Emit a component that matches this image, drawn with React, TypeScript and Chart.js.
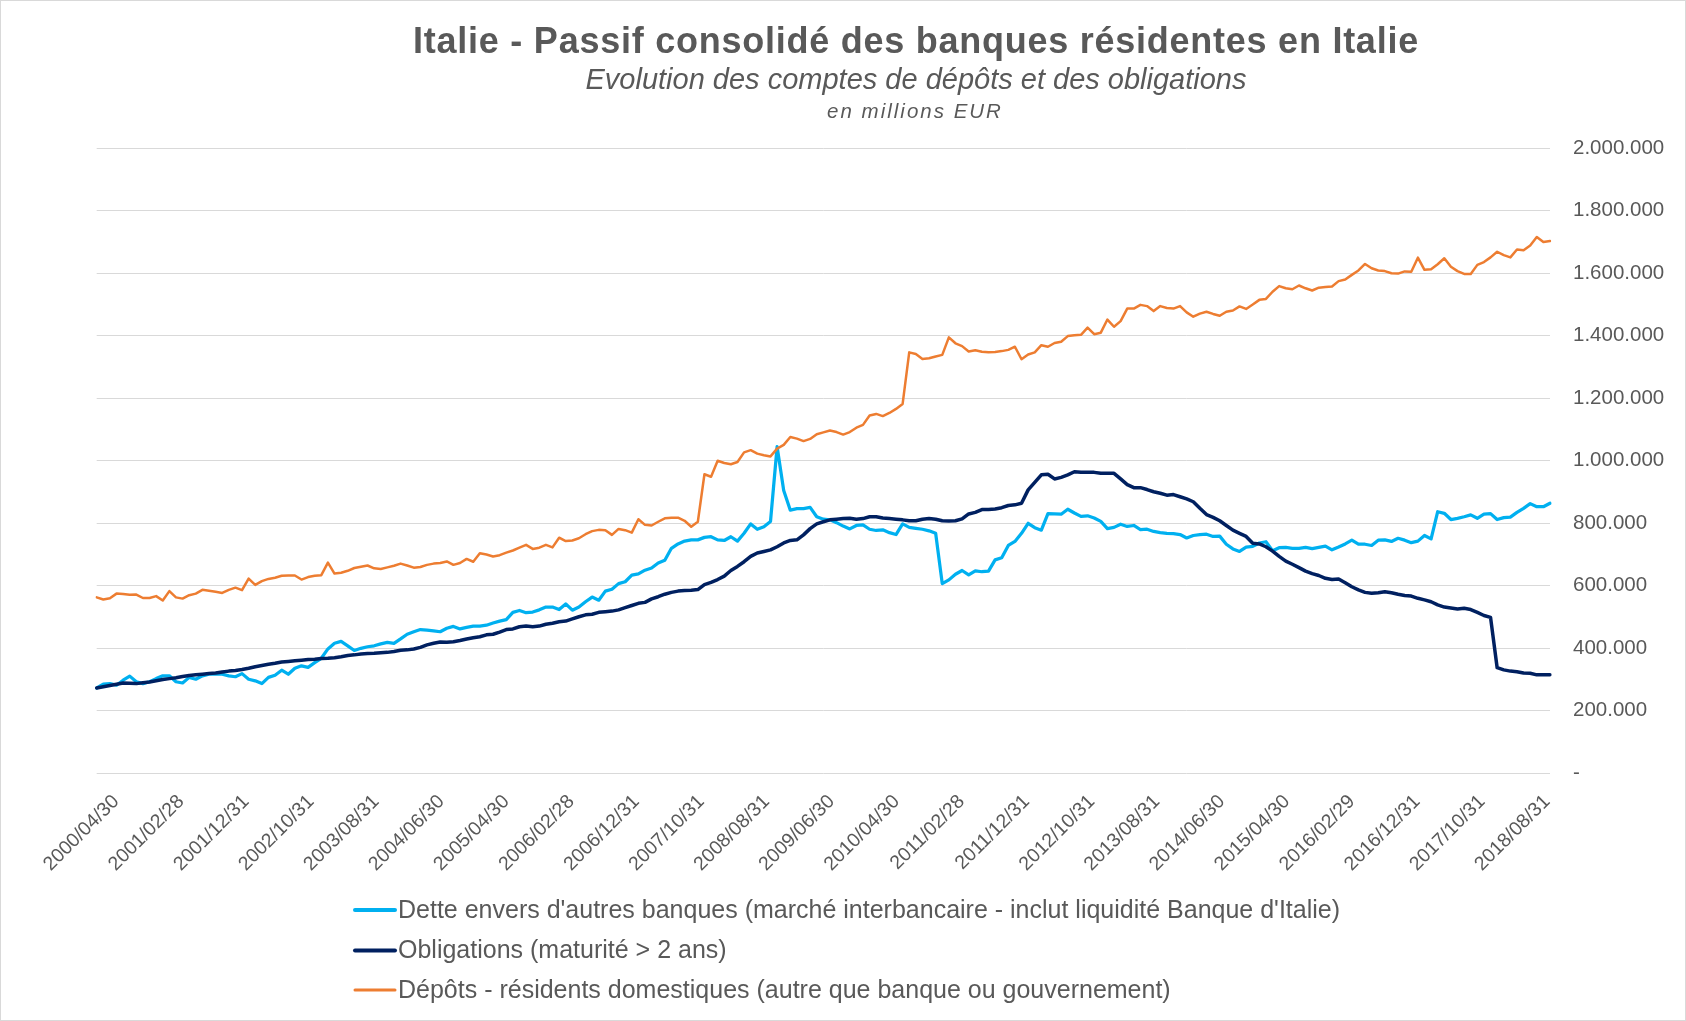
import React, { useEffect, useRef } from "react";
import { Chart, registerables } from "chart.js";

Chart.register(...registerables);

// Values in thousands of millions EUR (multiplied by UNIT for the axis)
const UNIT = 1000;

const START_YEAR = 2000;
const START_MONTH = 4; // April
const N_MONTHS = 221;

const TICK_LABELS = [
  "2000/04/30", "2001/02/28", "2001/12/31", "2002/10/31", "2003/08/31", "2004/06/30",
  "2005/04/30", "2006/02/28", "2006/12/31", "2007/10/31", "2008/08/31", "2009/06/30",
  "2010/04/30", "2011/02/28", "2011/12/31", "2012/10/31", "2013/08/31", "2014/06/30",
  "2015/04/30", "2016/02/29", "2016/12/31", "2017/10/31", "2018/08/31",
];
const TICK_STEP = 10; // one label every 10 months

const Y_TICKS = [0, 200000, 400000, 600000, 800000, 1000000, 1200000, 1400000, 1600000, 1800000, 2000000];

const SERIES_NAMES = [
  "Dette envers d'autres banques (marché interbancaire - inclut liquidité Banque d'Italie)",
  "Obligations (maturité > 2 ans)",
  "Dépôts - résidents domestiques (autre que banque ou gouvernement)",
];
const SERIES_COLORS = ["#00B0F0", "#002060", "#ED7D31"];

const INTERBANK = [
  273,285,287,282,298,311,293,287,293,303,
  312,312,293,289,307,301,312,317,317,317,
  312,309,319,301,296,287,307,314,330,317,
  336,344,339,354,368,398,416,422,408,393,
  400,405,408,414,419,416,430,445,453,460,
  458,456,453,464,470,462,467,471,471,474,
  481,487,492,515,521,514,516,523,532,532,
  524,542,522,532,549,564,554,583,589,607,
  613,634,638,650,657,673,682,720,734,743,
  747,747,755,757,747,745,757,743,768,798,
  781,789,806,1045,905,842,847,847,851,821,
  813,811,802,791,782,793,795,781,777,779,
  770,764,798,787,784,781,776,768,607,619,
  637,649,635,648,645,647,683,690,729,742,
  768,800,786,778,831,830,829,845,833,822,
  824,817,806,783,787,797,790,793,780,781,
  774,770,768,767,764,753,761,764,765,758,
  759,733,718,710,724,726,737,741,712,722,
  723,720,720,723,719,723,727,715,724,734,
  746,733,733,729,746,747,742,752,746,738,
  743,761,750,837,832,812,816,821,827,816,
  829,831,812,818,820,835,848,863,853,853,
  864,
];

const BONDS = [
  273,277,281,285,289,288,287,290,292,296,
  300,303,306,310,313,315,317,319,321,324,
  327,329,332,336,341,345,349,352,356,358,
  360,362,364,365,367,368,370,373,377,379,
  382,383,384,386,387,390,394,395,398,403,
  411,416,420,419,421,425,430,434,437,443,
  445,452,460,462,469,471,469,471,477,480,
  485,487,494,501,507,509,515,517,519,523,
  530,537,544,547,558,565,573,579,583,585,
  586,588,604,611,620,631,649,662,677,694,
  705,710,715,725,737,745,747,763,783,798,
  805,811,813,815,816,813,815,821,821,817,
  815,813,811,808,808,813,815,813,808,807,
  808,814,830,835,844,844,846,850,857,859,
  864,907,931,955,957,942,947,955,965,963,
  963,963,960,960,960,942,924,914,914,908,
  901,896,890,892,885,878,869,848,828,819,
  808,793,778,768,758,736,734,725,711,694,
  679,669,658,647,639,633,624,620,622,610,
  597,587,579,576,578,581,578,573,569,567,
  560,555,549,539,532,529,526,528,524,515,
  505,499,338,331,327,325,321,320,315,315,
  315,
];

const DEPOSITS = [
  563,556,560,575,574,571,572,561,561,567,
  553,583,563,559,570,575,587,584,581,577,
  587,594,586,623,603,615,622,626,632,633,
  633,620,628,632,634,674,639,642,648,657,
  661,665,656,654,659,664,671,665,658,660,
  667,671,673,678,667,673,686,677,704,700,
  694,698,706,713,722,731,718,722,731,723,
  754,743,745,752,765,775,779,778,763,782,
  778,770,813,795,793,805,816,818,818,808,
  789,805,957,949,1000,993,989,996,1027,1034,
  1023,1018,1014,1039,1051,1076,1071,1063,1070,1085,
  1091,1097,1092,1084,1092,1106,1115,1145,1150,1143,
  1153,1166,1182,1347,1342,1326,1328,1334,1339,1395,
  1376,1367,1350,1354,1349,1347,1348,1351,1355,1365,
  1325,1340,1347,1370,1365,1377,1381,1399,1402,1403,
  1426,1405,1410,1452,1429,1447,1487,1487,1499,1495,
  1479,1495,1489,1487,1495,1475,1461,1471,1477,1470,
  1464,1477,1481,1494,1486,1500,1515,1518,1541,1559,
  1552,1549,1561,1552,1545,1554,1556,1558,1575,1580,
  1595,1609,1630,1616,1609,1607,1600,1599,1606,1605,
  1650,1611,1613,1629,1648,1621,1607,1598,1598,1627,
  1636,1651,1669,1658,1651,1676,1674,1689,1716,1700,
  1703,
];

const TITLE = "Italie - Passif consolidé des banques résidentes en Italie";
const SUBTITLE = "Evolution des comptes de dépôts et des obligations";
const UNIT_LINE = "en millions EUR";

function monthEndLabels(): string[] {
  const out: string[] = [];
  for (let k = 0; k < N_MONTHS; k++) {
    const m0 = START_MONTH - 1 + k;
    const y = START_YEAR + Math.floor(m0 / 12);
    const m = (m0 % 12) + 1;
    const d = new Date(y, m, 0).getDate();
    out.push(`${y}/${String(m).padStart(2, "0")}/${String(d).padStart(2, "0")}`);
  }
  return out;
}

const CATEGORIES = monthEndLabels();

const FONT = "'Liberation Sans', Arial, sans-serif";
const TEXT = "#595959";

function fmt(v: number): string {
  if (v === 0) return "-";
  return Math.round(v).toString().replace(/\B(?=(\d{3})+(?!\d))/g, ".");
}

const W = 1686;
const H = 1021;

const decorPlugin = {
  id: "decor",
  afterDraw(chart: any) {
    const ctx = chart.ctx as CanvasRenderingContext2D;
    ctx.save();
    // outer border
    ctx.strokeStyle = "#d9d9d9";
    ctx.lineWidth = 1;
    ctx.strokeRect(0.5, 0.5, W - 1, H - 1);

    ctx.fillStyle = TEXT;
    ctx.textAlign = "center";
    ctx.textBaseline = "alphabetic";
    (ctx as any).letterSpacing = "0.75px";
    ctx.font = `bold 36px ${FONT}`;
    ctx.fillText(TITLE, 916, 53);
    (ctx as any).letterSpacing = "0px";
    ctx.font = `italic 29px ${FONT}`;
    ctx.fillText(SUBTITLE, 916, 89);
    (ctx as any).letterSpacing = "2px";
    ctx.font = `italic 20.5px ${FONT}`;
    ctx.fillText(UNIT_LINE, 915, 118);
    (ctx as any).letterSpacing = "0px";

    // legend
    const rows = [910, 950.5, 990];
    const widths = [4, 4, 3];
    ctx.textAlign = "left";
    ctx.textBaseline = "middle";
    ctx.font = `25px ${FONT}`;
    for (let i = 0; i < SERIES_NAMES.length; i++) {
      ctx.strokeStyle = SERIES_COLORS[i];
      ctx.lineWidth = widths[i];
      ctx.lineCap = "round";
      ctx.beginPath();
      ctx.moveTo(355, rows[i]);
      ctx.lineTo(395, rows[i]);
      ctx.stroke();
      ctx.fillStyle = TEXT;
      ctx.fillText(SERIES_NAMES[i], 398, rows[i] + 1);
    }
    ctx.restore();
  },
};

export default function App() {
  const ref = useRef<HTMLCanvasElement | null>(null);

  useEffect(() => {
    if (!ref.current) return;
    const chart = new Chart(ref.current, {
      type: "line",
      data: {
        labels: CATEGORIES,
        datasets: [
          {
            label: SERIES_NAMES[0],
            data: INTERBANK.map((v) => v * UNIT),
            borderColor: SERIES_COLORS[0],
            backgroundColor: SERIES_COLORS[0],
            borderWidth: 3.25,
            order: 3,
          },
          {
            label: SERIES_NAMES[1],
            data: BONDS.map((v) => v * UNIT),
            borderColor: SERIES_COLORS[1],
            backgroundColor: SERIES_COLORS[1],
            borderWidth: 3.5,
            order: 2,
          },
          {
            label: SERIES_NAMES[2],
            data: DEPOSITS.map((v) => v * UNIT),
            borderColor: SERIES_COLORS[2],
            backgroundColor: SERIES_COLORS[2],
            borderWidth: 2.5,
            order: 1,
          },
        ],
      },
      options: {
        animation: false,
        responsive: false,
        devicePixelRatio: 1,
        elements: {
          point: { radius: 0, hoverRadius: 0 },
          line: { tension: 0, borderJoinStyle: "round", borderCapStyle: "round" },
        },
        layout: { padding: { left: 96.7, top: 148.3, right: 0, bottom: 0 } },
        plugins: {
          legend: { display: false },
          title: { display: false },
          tooltip: { enabled: false },
        },
        scales: {
          x: {
            type: "category",
            offset: false,
            display: false,
          },
          // label axis: Excel spreads the date labels slightly tighter than the data ticks
          xl: {
            type: "linear",
            position: "bottom",
            min: -2.967,
            max: 220.44,
            grid: { display: false },
            border: { display: false },
            afterBuildTicks: (s: any) => {
              s.ticks = TICK_LABELS.map((_, k) => ({ value: k * TICK_STEP }));
            },
            ticks: {
              autoSkip: false,
              minRotation: 45,
              maxRotation: 45,
              padding: 9,
              color: TEXT,
              font: { family: FONT, size: 19.5 },
              callback: (v: any) => {
                const idx = Math.round(Number(v));
                const lab = CATEGORIES[idx];
                return TICK_LABELS.includes(lab) ? lab : "";
              },
            },
            afterFit: (s: any) => {
              s.height = H - 773.3;
            },
          },
          y: {
            position: "right",
            min: 0,
            max: 2000000,
            afterBuildTicks: (s: any) => {
              s.ticks = Y_TICKS.map((v) => ({ value: v }));
            },
            grid: { color: "#d9d9d9", lineWidth: 1, drawTicks: false },
            border: { display: false },
            ticks: {
              padding: 23,
              color: TEXT,
              font: { family: FONT, size: 20.5 },
              callback: (v: any) => fmt(Number(v)),
            },
            afterFit: (s: any) => {
              s.width = W - 1550;
            },
          },
        },
      },
      plugins: [decorPlugin],
    });
    return () => chart.destroy();
  }, []);

  return (
    <div style={{ position: "fixed", left: 0, top: 0, width: W, height: H, background: "#fff" }}>
      <canvas ref={ref} width={W} height={H} style={{ width: W, height: H, display: "block" }} />
    </div>
  );
}
